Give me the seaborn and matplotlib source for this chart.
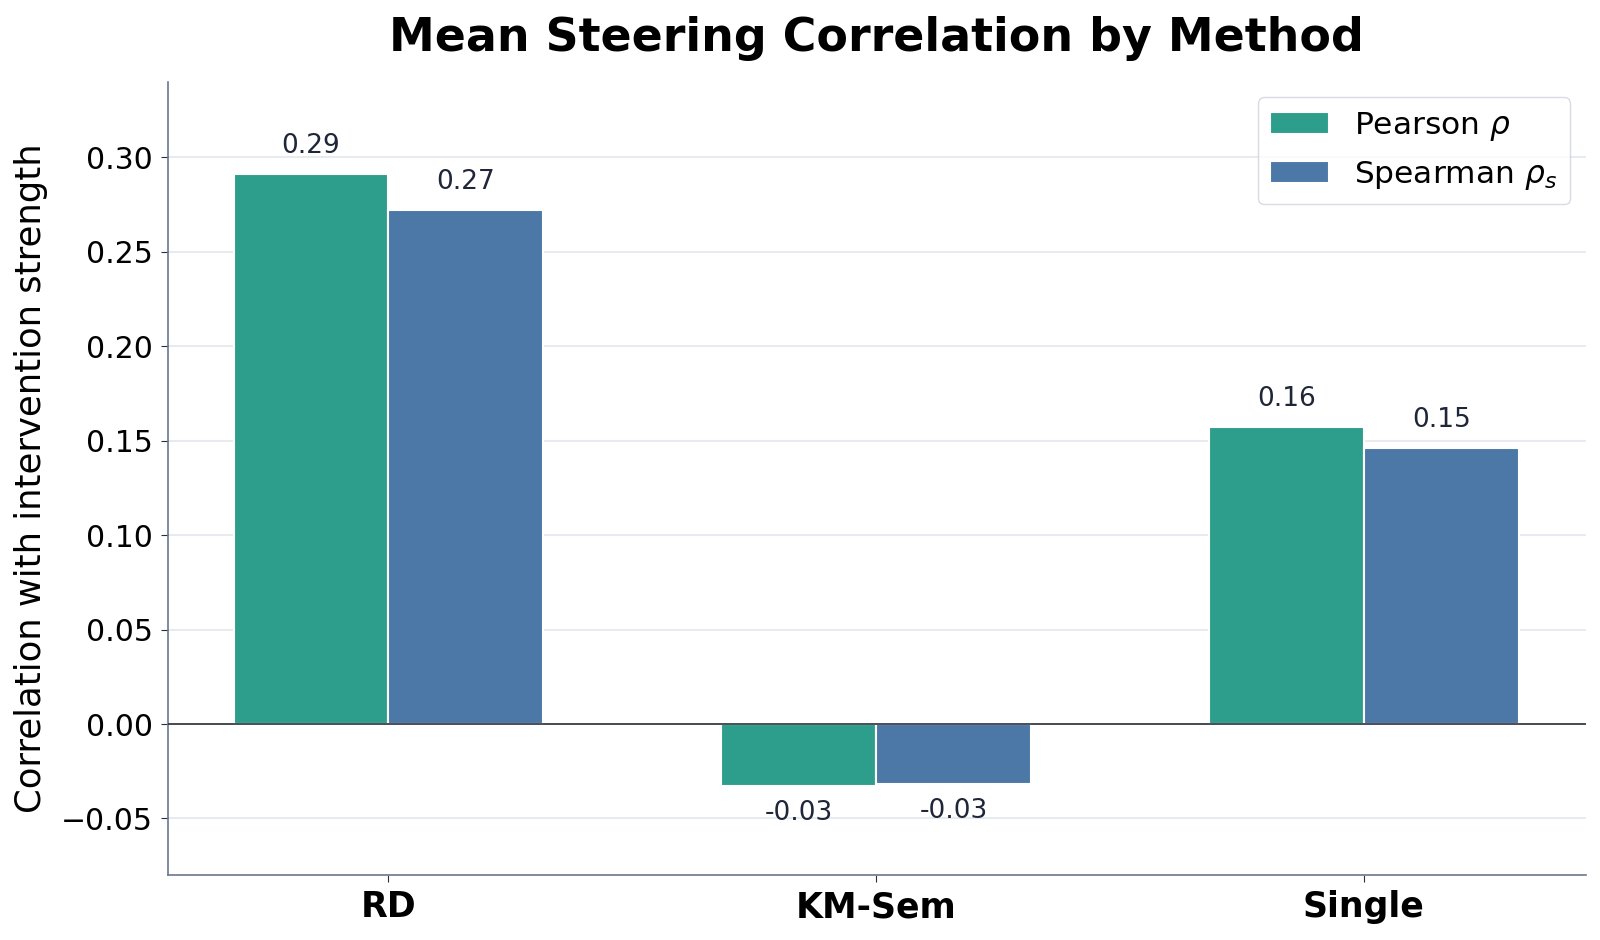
import pandas as pd
import seaborn as sns
import matplotlib.pyplot as plt

methods = ['RD', 'KM-Sem', 'Single']
pearson = [0.291, -0.033, 0.157]
spearman = [0.272, -0.032, 0.146]
metrics = ['Pearson $\\rho$', 'Spearman $\\rho_s$']
colors = ['#2E9E8C', '#4C78A8']

df = pd.DataFrame({
    'method': methods * 2,
    'metric': [metrics[0]] * 3 + [metrics[1]] * 3,
    'value': pearson + spearman,
})

sns.set_style('white')
plt.rcParams['font.family'] = ['DejaVu Sans']
plt.rcParams['text.color'] = 'black'
plt.rcParams['axes.labelcolor'] = 'black'
plt.rcParams['xtick.color'] = 'black'
plt.rcParams['ytick.color'] = 'black'

fig, ax = plt.subplots(figsize=(16, 9.4), dpi=100)
fig.subplots_adjust(left=0.105, right=0.991, top=0.913, bottom=0.069)

sns.barplot(data=df, x='method', y='value', hue='metric', palette=colors,
            saturation=1, width=0.635, edgecolor='white', linewidth=1.5, ax=ax)

# value labels
for cont in ax.containers:
    for bar in cont:
        h = bar.get_height()
        x = bar.get_x() + bar.get_width() / 2
        if h >= 0:
            ax.annotate(f'{h:.2f}', (x, h), xytext=(0, 11), textcoords='offset points',
                        ha='center', va='bottom', fontsize=19, color='#1E2638')
        else:
            ax.annotate(f'{h:.2f}', (x, h), xytext=(0, -10), textcoords='offset points',
                        ha='center', va='top', fontsize=19, color='#1E2638')

ax.axhline(0, color='#2B2F3A', linewidth=1.2, zorder=3)
ax.set_ylim(-0.08, 0.34)
ax.set_xlim(-0.452, 2.455)
ax.set_yticks([-0.05, 0.0, 0.05, 0.10, 0.15, 0.20, 0.25, 0.30])
ax.set_yticklabels(['−0.05', '0.00', '0.05', '0.10', '0.15', '0.20', '0.25', '0.30'])
ax.yaxis.grid(True, color='#E3E6EC', linewidth=1.2)
ax.set_axisbelow(True)

for s in ['top', 'right']:
    ax.spines[s].set_visible(False)
for s in ['left', 'bottom']:
    ax.spines[s].set_color('#6B778C')
    ax.spines[s].set_linewidth(1.2)

ax.tick_params(axis='y', labelsize=21.5, length=5, color='#2B2F3A', left=True, pad=6)
ax.tick_params(axis='x', labelsize=25, length=5, color='#2B2F3A', bottom=True, pad=6)
for lab in ax.get_xticklabels():
    lab.set_fontweight('bold')

ax.set_xlabel('')
ax.set_ylabel('Correlation with intervention strength', fontsize=25.5, labelpad=9)
ax.set_title('Mean Steering Correlation by Method', fontsize=33, fontweight='bold', pad=22)

leg = ax.legend(title=None, fontsize=22.5, loc='upper right', frameon=True,
                handlelength=1.9, handletextpad=0.8)
leg.get_frame().set_edgecolor('#CDD2DB')

plt.savefig('out.png', dpi=100)
